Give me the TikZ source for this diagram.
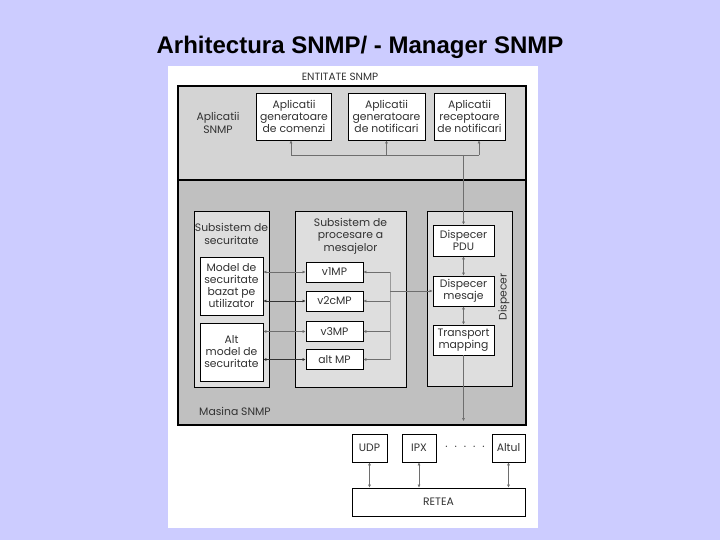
\documentclass[tikz,border=0pt]{standalone}
\usepackage{fontspec}
\setmainfont{Poppins}
\newfontfamily\titlefont{Liberation Sans}
\usetikzlibrary{arrows.meta, positioning}

\definecolor{lavender}{RGB}{204,204,255}
\definecolor{entgray}{RGB}{212,212,212}
\definecolor{masgray}{RGB}{192,192,192}
\definecolor{subgray}{RGB}{222,222,222}
\definecolor{linegray}{RGB}{110,110,110}
\definecolor{textgray}{RGB}{50,50,50}

\begin{document}
\begin{tikzpicture}[
  x=1pt, y=-1pt,
  every node/.style={text=textgray},
  frame/.style={draw=black, line width=1.3pt, inner sep=0pt},
  subsys/.style={draw=black, fill=subgray, line width=0.5pt, inner sep=0pt},
  box/.style={draw=black, fill=white, line width=0.7pt, align=center, inner sep=0.5pt,
              font=\fontsize{10.8}{12}\selectfont},
  lbl/.style={align=center, inner sep=0pt, font=\fontsize{10.8}{12.5}\selectfont},
  conn/.style={{Latex[length=3pt,width=3pt]}-{Latex[length=3pt,width=3pt]}, linegray, line width=0.5pt},
  arr/.style={-{Latex[length=3pt,width=3pt]}, linegray, line width=0.5pt}
]
  \useasboundingbox (0,0) rectangle (720,540);
  \fill[lavender] (0,0) rectangle (720,540);
  \fill[white] (168,66) rectangle (538,528);

  \node[font=\titlefont\bfseries\fontsize{24}{28}\selectfont, text=black] (title) at (360,47) {Arhitectura SNMP/ - Manager SNMP};

  % entitate si masina
  \node[frame, fill=entgray, minimum width=348, minimum height=94] (ent) at (352,133) {};
  \node[frame, fill=masgray, minimum width=348, minimum height=245] (mas) at (352,302.5) {};
  \node[lbl, font=\fontsize{10.5}{12}\selectfont] (entlbl) at (340,77) {ENTITATE SNMP};
  \node[lbl] (aplsnmp) at (218,123) {Aplicatii\\SNMP};
  \node[lbl, anchor=west] (maslbl) at (199,411) {Masina SNMP};

  % aplicatii
  \node[box, minimum width=75, minimum height=47] (gencmd) at (294,116.5) {Aplicatii\\generatoare\\de comenzi};
  \node[box, minimum width=77, minimum height=47] (gennot) at (386.5,116.5) {Aplicatii\\generatoare\\de notificari};
  \node[box, minimum width=71, minimum height=47] (recnot) at (469.5,116.5) {Aplicatii\\receptoare\\de notificari};

  % subsisteme
  \node[subsys, minimum width=75, minimum height=176] (sec) at (231.5,299) {};
  \node[subsys, minimum width=111, minimum height=176] (proc) at (350.5,299) {};
  \node[subsys, minimum width=85, minimum height=175] (disp) at (469.5,298.5) {};
  \node[lbl] (seclbl) at (231.5,234) {Subsistem de\\securitate};
  \node[lbl] (proclbl) at (350.5,236) {Subsistem de\\procesare a\\mesajelor};
  \node[lbl, rotate=90] (displbl) at (504,297) {Dispecer};

  \node[box, minimum width=63, minimum height=58] (usm) at (231.5,286) {Model de\\securitate\\bazat pe\\utilizator};
  \node[box, minimum width=63, minimum height=58] (altsec) at (231.5,352) {Alt\\model de\\securitate};

  \node[box, minimum width=57, minimum height=20] (v1) at (334.5,272) {v1MP};
  \node[box, minimum width=57, minimum height=20] (v2c) at (334.5,301) {v2cMP};
  \node[box, minimum width=57, minimum height=20] (v3) at (334.5,331.5) {v3MP};
  \node[box, minimum width=57, minimum height=20] (altmp) at (334.5,359.5) {alt MP};

  \node[box, minimum width=61, minimum height=31] (pdu) at (463.5,240.5) {Dispecer\\PDU};
  \node[box, minimum width=61, minimum height=30] (mes) at (463.5,291) {Dispecer\\mesaje};
  \node[box, minimum width=61, minimum height=30] (tm) at (463.5,340) {Transport\\mapping};

  % retea
  \node[box, minimum width=35, minimum height=28] (udp) at (369.5,448) {UDP};
  \node[box, minimum width=34, minimum height=28] (ipx) at (419,448) {IPX};
  \node[box, minimum width=33, minimum height=28] (altul) at (508.5,448) {Altul};
  \node[lbl] (dots) at (465,448) {·\hspace{7pt}·\hspace{7pt}·\hspace{7pt}·\hspace{7pt}·};
  \node[box, minimum width=173, minimum height=28] (retea) at (438.5,502) {RETEA};

  % conexiuni aplicatii
  \coordinate (appbusL) at (291,155);
  \coordinate (appbusR) at (479,155);
  \draw[linegray, line width=0.5pt] (appbusL) -- (appbusR);
  \draw[arr] (appbusL) -- (appbusL |- gencmd.south);
  \draw[arr] (appbusL -| gennot.south) -- (gennot.south);
  \draw[arr] (appbusR) -- (appbusR |- recnot.south);
  \draw[arr] (appbusL -| pdu.north) -- (pdu.north);

  % dispecer
  \draw[conn] (pdu) -- (mes);
  \draw[conn] (mes) -- (tm);
  \coordinate (tmout) at (463.5,421);
  \draw[arr] (tm.south) -- (tmout);

  % securitate - procesare
  \draw[conn] (usm.east |- v1.west) -- (v1.west);
  \draw[conn, black!80] (usm.east |- v2c.west) -- (v2c.west);
  \draw[conn] (altsec.east |- v3.west) -- (v3.west);
  \draw[conn, black!80] (altsec.east |- altmp.west) -- (altmp.west);

  % procesare - dispecer mesaje
  \coordinate (mpbus) at (390,291);
  \draw[linegray!70, line width=0.5pt] (mpbus |- v1.east) -- (mpbus |- altmp.east);
  \draw[arr] (mpbus |- v1.east) -- (v1.east);
  \draw[arr] (mpbus |- v2c.east) -- (v2c.east);
  \draw[arr] (mpbus |- v3.east) -- (v3.east);
  \draw[arr] (mpbus |- altmp.east) -- (altmp.east);
  \draw[arr] (mpbus) -- (mes.west);

  % transport - retea
  \draw[conn] (udp.south) -- (udp.south |- retea.north);
  \draw[conn] (ipx.south) -- (ipx.south |- retea.north);
  \draw[conn] (altul.south) -- (altul.south |- retea.north);
\end{tikzpicture}
\end{document}
